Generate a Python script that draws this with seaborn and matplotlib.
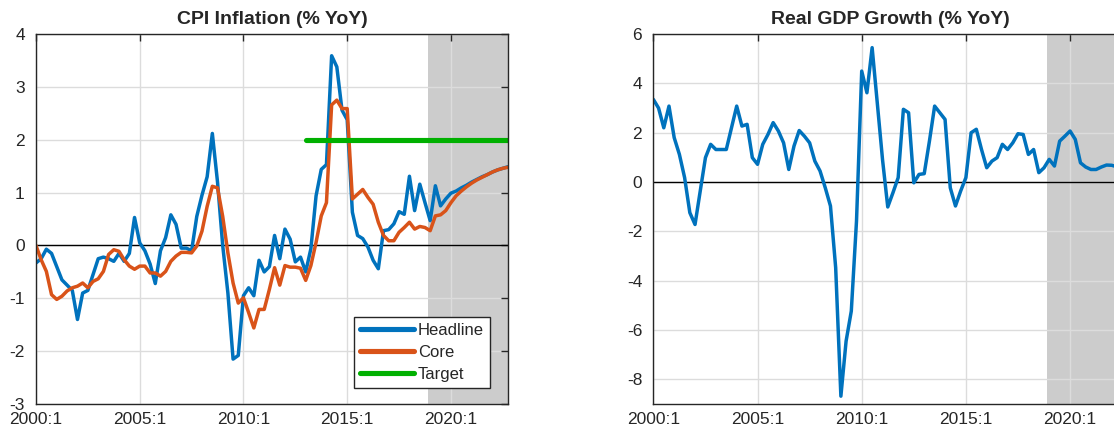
import numpy as np
import pandas as pd
import seaborn as sns
import matplotlib.pyplot as plt

# quarterly data, 2000:1 .. 2022:4 (shaded part is the forecast)
quarters = np.arange(2000, 2023, 0.25)
headline = [-0.33, -0.25, -0.07, -0.15, -0.4, -0.65, -0.75, -0.85, -1.4, -0.9,
            -0.85, -0.55, -0.25, -0.22, -0.25, -0.3, -0.15, -0.3, -0.15, 0.53,
            0.05, -0.1, -0.35, -0.72, -0.1, 0.15, 0.58, 0.4, -0.05, -0.05,
            -0.1, 0.55, 0.95, 1.3, 2.12, 1.2, 0.0, -0.9, -2.15, -2.08,
            -0.95, -0.8, -0.95, -0.28, -0.5, -0.4, 0.19, -0.25, 0.31, 0.12,
            -0.31, -0.22, -0.5, -0.06, 0.94, 1.44, 1.53, 3.59, 3.38, 2.56,
            2.38, 0.63, 0.19, 0.13, -0.03, -0.28, -0.44, 0.28, 0.30, 0.41,
            0.64, 0.59, 1.31, 0.66, 1.16, 0.81, 0.47, 1.13, 0.75, 0.88,
            0.99, 1.03, 1.09, 1.14, 1.2, 1.25, 1.3, 1.34, 1.39, 1.43,
            1.46, 1.49]
core = [0.0, -0.27, -0.49, -0.93, -1.02, -0.96, -0.86, -0.8, -0.77, -0.71,
        -0.8, -0.68, -0.63, -0.49, -0.17, -0.08, -0.11, -0.27, -0.39, -0.45,
        -0.39, -0.39, -0.52, -0.52, -0.58, -0.49, -0.3, -0.2, -0.13, -0.13,
        -0.14, -0.01, 0.27, 0.74, 1.12, 1.09, 0.55, -0.14, -0.71, -1.09,
        -0.99, -1.27, -1.56, -1.21, -1.21, -0.83, -0.42, -0.75, -0.38, -0.41,
        -0.41, -0.43, -0.66, -0.38, 0.06, 0.56, 0.81, 2.66, 2.75, 2.59,
        2.59, 0.88, 0.97, 1.06, 0.91, 0.78, 0.44, 0.19, 0.09, 0.09,
        0.25, 0.34, 0.44, 0.31, 0.36, 0.34, 0.28, 0.56, 0.58, 0.66,
        0.81, 0.94, 1.03, 1.11, 1.18, 1.24, 1.29, 1.34, 1.39, 1.43,
        1.46, 1.48]
target = [np.nan] * 52 + [2.0] * 40
gdp = [3.35, 3.0, 2.2, 3.08, 1.8, 1.12, 0.18, -1.24, -1.72, -0.36,
       0.99, 1.53, 1.32, 1.32, 1.32, 2.2, 3.08, 2.27, 2.34, 0.99,
       0.72, 1.53, 1.93, 2.41, 2.07, 1.59, 0.51, 1.46, 2.09, 1.86,
       1.59, 0.85, 0.45, -0.23, -0.97, -3.47, -8.68, -6.45, -5.23, -1.58,
       4.5, 3.62, 5.45, 3.18, 0.9, -1.01, -0.43, 0.18, 2.95, 2.81,
       -0.03, 0.31, 0.34, 1.66, 3.08, 2.81, 2.54, -0.23, -0.97, -0.36,
       0.18, 2.0, 2.14, 1.32, 0.58, 0.85, 0.99, 1.53, 1.32, 1.59,
       1.96, 1.93, 1.12, 1.32, 0.38, 0.58, 0.92, 0.65, 1.66, 1.86,
       2.07, 1.73, 0.78, 0.61, 0.51, 0.51, 0.61, 0.69, 0.68, 0.62,
       0.62, 0.62]
year_ticks = [2000, 2005, 2010, 2015, 2020]
year_labels = ['2000:1', '2005:1', '2010:1', '2015:1', '2020:1']
forecast_start = 2018.875

df = pd.DataFrame({'date': quarters, 'Headline': headline, 'Core': core,
                   'Target': target, 'GDP': gdp})

sns.set_style('white')
plt.rcParams['font.family'] = ['Liberation Sans', 'DejaVu Sans']
plt.rcParams['axes.unicode_minus'] = False

blue = '#0072BD'
orange = '#D95319'
green = '#00B000'

fig = plt.figure(figsize=(11.14, 4.34), dpi=100)
ax1 = fig.add_axes([0.0323, 0.069, 0.4237, 0.8525])
ax2 = fig.add_axes([0.5865, 0.069, 0.4255, 0.8525])


def style_axis(ax, title):
    ax.axvspan(forecast_start, 2030, color='#CCCCCC', lw=0, zorder=0)
    ax.axhline(0, color='black', lw=1, zorder=1)
    ax.set_xlim(2000, 2022.75)
    ax.set_xticks(year_ticks)
    ax.set_xticklabels(year_labels)
    ax.grid(True, color='#DCDCDC', lw=1)
    ax.set_axisbelow(True)
    ax.tick_params(direction='in', length=5, width=1, top=True, right=True,
                   labelsize=12.5, colors='#262626', pad=6)
    ax.tick_params(axis='y', pad=8)
    for sp in ax.spines.values():
        sp.set_color('#262626')
        sp.set_linewidth(1)
    ax.set_title(title, fontsize=14, fontweight='bold', pad=7)
    ax.set_xlabel('')
    ax.set_ylabel('')


# CPI inflation
sns.lineplot(data=df, x='date', y='Headline', ax=ax1, color=blue, lw=2.5, label='Headline')
sns.lineplot(data=df, x='date', y='Core', ax=ax1, color=orange, lw=2.5, label='Core')
sns.lineplot(data=df, x='date', y='Target', ax=ax1, color=green, lw=3.7, label='Target')
style_axis(ax1, 'CPI Inflation (% YoY)')
ax1.set_ylim(-3, 4)
ax1.set_yticks(range(-3, 5))
leg = ax1.legend(loc='lower right', bbox_to_anchor=(0.961, 0.043), borderaxespad=0,
                 fontsize=12, frameon=True, fancybox=False, framealpha=1,
                 edgecolor='#262626', handlelength=3.2, handletextpad=0.25,
                 borderpad=0.35, labelspacing=0.42)
leg.get_frame().set_linewidth(1)
for line in leg.get_lines():
    line.set_linewidth(3.7)

# real GDP growth
sns.lineplot(data=df, x='date', y='GDP', ax=ax2, color=blue, lw=2.5)
style_axis(ax2, 'Real GDP Growth (% YoY)')
ax2.set_ylim(-9, 6)
ax2.set_yticks(range(-8, 7, 2))

fig.savefig('out.png', dpi=100)
